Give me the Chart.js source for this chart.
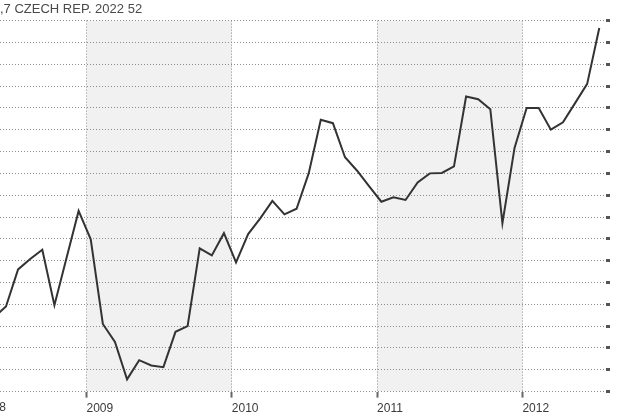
<!DOCTYPE html>
<html>
<head>
<meta charset="utf-8">
<script src="https://cdn.jsdelivr.net/npm/chart.js@4"></script>
<style>
  html, body { margin: 0; padding: 0; background: #ffffff; }
  #wrap { width: 640px; height: 420px; position: relative; }
</style>
</head>
<body>
<div id="wrap"><canvas id="c" width="640" height="420"></canvas></div>
<script>
// ---- data ----
const titleText = ',7 CZECH REP. 2022 52';
const months = [
  '2008-05','2008-06','2008-07','2008-08','2008-09','2008-10','2008-11','2008-12',
  '2009-01','2009-02','2009-03','2009-04','2009-05','2009-06','2009-07','2009-08','2009-09','2009-10','2009-11','2009-12',
  '2010-01','2010-02','2010-03','2010-04','2010-05','2010-06','2010-07','2010-08','2010-09','2010-10','2010-11','2010-12',
  '2011-01','2011-02','2011-03','2011-04','2011-05','2011-06','2011-07','2011-08','2011-09','2011-10','2011-11','2011-12',
  '2012-01','2012-02','2012-03','2012-04','2012-05','2012-06','2012-07'
];
const prices = [
  93.70, 93.95, 94.80, 95.04, 95.25, 93.98, 95.06, 96.14,
  95.49, 93.55, 93.14, 92.28, 92.72, 92.60, 92.56, 93.37, 93.50, 95.28, 95.12, 95.63,
  94.96, 95.61, 95.97, 96.37, 96.06, 96.19, 97.00, 98.23, 98.15, 97.37, 97.06, 96.70,
  96.35, 96.45, 96.39, 96.79, 97.00, 97.01, 97.16, 98.76, 98.70, 98.47, 95.86, 97.58,
  98.50, 98.50, 98.00, 98.17, 98.61, 99.05, 100.33
];
const yearTicks = [2009, 2010, 2011, 2012];
const cutYearLabel = '2008';
const bandYears = [2008, 2009, 2010, 2011, 2012, 2013];
const bandShaded = [false, true, false, true, false];

// month string -> position on a continuous year axis
function monthToX(m) {
  const [y, mo] = m.split('-').map(Number);
  return y + (mo - 1 + 0.35) / 12;
}
const points = months.map((m, i) => ({ x: monthToX(m), y: prices[i] }));

const FONT = "'Liberation Sans', Arial, sans-serif";

const bandsPlugin = {
  id: 'bands',
  beforeDraw(chart) {
    const { ctx, chartArea: a, scales: { x } } = chart;
    ctx.save();
    ctx.beginPath();
    ctx.rect(a.left, a.top, a.right - a.left, a.bottom - a.top);
    ctx.clip();
    for (let i = 0; i < bandShaded.length; i++) {
      if (!bandShaded[i]) continue;
      const x1 = x.getPixelForValue(bandYears[i]);
      const x2 = x.getPixelForValue(bandYears[i + 1]);
      ctx.fillStyle = '#f1f1f1';
      ctx.fillRect(x1, a.top, x2 - x1, a.bottom - a.top);
    }
    ctx.restore();
  },
  afterDraw(chart) {
    // the 2008 label, cut by the left edge of the picture
    const { ctx, chartArea: a } = chart;
    ctx.save();
    ctx.font = '12px ' + FONT;
    ctx.fillStyle = '#3a3a3a';
    ctx.textAlign = 'right';
    ctx.textBaseline = 'top';
    ctx.fillText(cutYearLabel, a.left + 6, a.bottom + 10);
    ctx.restore();
  }
};

new Chart(document.getElementById('c'), {
  type: 'line',
  data: {
    datasets: [{
      data: points,
      borderColor: '#333333',
      borderWidth: 2,
      pointRadius: 0,
      tension: 0,
      fill: false
    }]
  },
  options: {
    responsive: false,
    animation: false,
    events: [],
    layout: { padding: { left: 0, right: 30, top: 0, bottom: 0 } },
    plugins: {
      legend: { display: false },
      tooltip: { enabled: false },
      title: {
        display: true,
        text: titleText,
        align: 'start',
        color: '#4a4a4a',
        font: { family: FONT, size: 13, weight: 'normal' },
        padding: { top: 2, bottom: 3 }
      }
    },
    scales: {
      x: {
        type: 'linear',
        min: 2008.4047,
        max: 2012.5754,
        afterBuildTicks(scale) { scale.ticks = yearTicks.map(v => ({ value: v })); },
        ticks: {
          align: 'start',
          padding: 4,
          color: '#3a3a3a',
          font: { family: FONT, size: 12 },
          maxRotation: 0,
          autoSkip: false,
          callback: v => String(v)
        },
        grid: {
          color: '#8c8c8c',
          lineWidth: 1,
          drawTicks: true,
          tickLength: 6,
          tickWidth: 2,
          tickColor: '#666666'
        },
        border: { display: false, dash: [1, 2] }
      },
      y: {
        position: 'right',
        min: 92,
        max: 100.5,
        ticks: { stepSize: 0.5, display: false },
        grid: {
          color: '#8c8c8c',
          lineWidth: 1,
          drawTicks: true,
          tickLength: 4,
          tickWidth: 3,
          tickColor: '#555555'
        },
        border: { display: false, dash: [1, 2] }
      }
    }
  },
  plugins: [bandsPlugin]
});
</script>
</body>
</html>
